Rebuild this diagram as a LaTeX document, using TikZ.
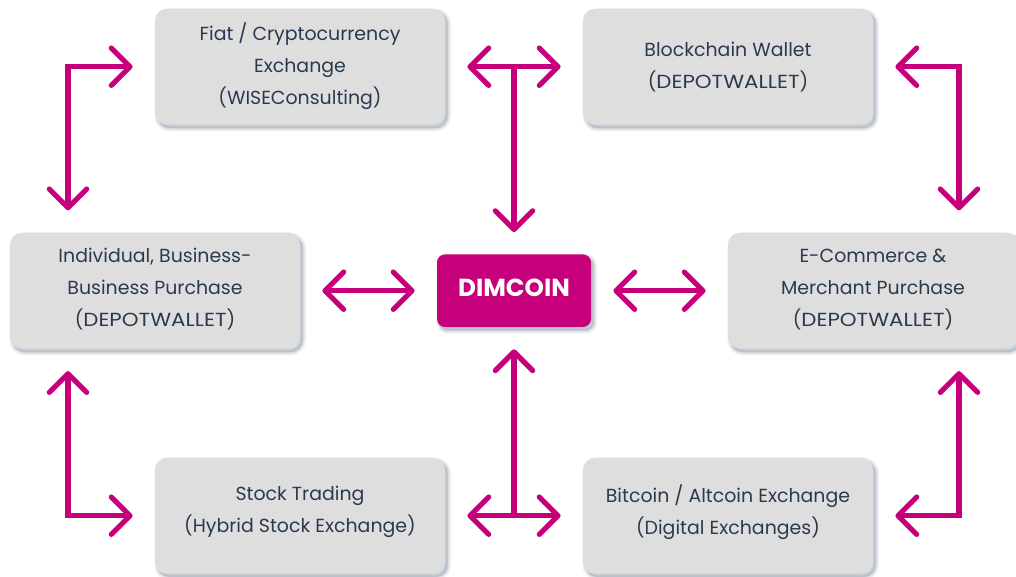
\documentclass[tikz,border=0pt]{standalone}
\usepackage{fontspec}
\setmainfont{Poppins}
\usetikzlibrary{arrows.meta}
\definecolor{mag}{HTML}{C6007A}
\definecolor{boxgray}{HTML}{DEDEDF}
\definecolor{ink}{HTML}{2A3A4E}
\definecolor{shade}{HTML}{8A97A8}
\newcommand{\wcaps}[1]{{\addfontfeature{FakeStretch=1.13}#1}}
\tikzset{
  x=0.75pt,y=-0.75pt,
  layer/.style={preaction={draw=shade,fill=shade,line width=#1,draw opacity=.11,fill opacity=.11,transform canvas={shift={(2pt,-2.5pt)}}}},
  softshadow/.style={layer=5pt,layer=3.5pt,layer=2pt,layer=0.8pt},
  panel/.style={rectangle,rounded corners=9pt,fill=boxgray,minimum width=217.5pt,minimum height=87pt,inner sep=0pt,align=center,text=ink,font=\fontsize{14.2pt}{24pt}\selectfont,softshadow,text depth=5pt},
  lowpanel/.style={panel,text depth=9pt},
  highpanel/.style={panel,text depth=2pt},
  core/.style={rectangle,rounded corners=6pt,fill=mag,minimum width=115.5pt,minimum height=54.5pt,inner sep=0pt,text=white,font=\fontsize{18.5pt}{20pt}\selectfont\bfseries,softshadow,text depth=4.5pt},
  conn/.style={draw=mag,line width=3.9pt,line cap=round,line join=miter},
  tipped/.style={conn,{Straight Barb[length=14pt,width=28pt,line cap=round,round]}-{Straight Barb[length=14pt,width=28pt,line cap=round,round]},shorten <=16.6pt,shorten >=16.6pt},
  halftip/.style={conn,-{Straight Barb[length=14pt,width=28pt,line cap=round,round]},shorten <=0pt,shorten >=0pt}
}
\begin{document}
\begin{tikzpicture}
\useasboundingbox (0,0) rectangle (1016,576);
\fill[white] (0,0) rectangle (1016,576);
\node[panel] (fiat) at (300,66.7) {Fiat / Cryptocurrency\\Exchange\\(WISEConsulting)};
\node[highpanel] (chain) at (728,66.7) {Blockchain Wallet\\(\wcaps{DEPOTWALLET})};
\node[panel] (indiv) at (155,290.7) {Individual, Business-\\Business Purchase\\(\wcaps{DEPOTWALLET})};
\node[panel] (ecom) at (873,290.7) {E-Commerce \&\\Merchant Purchase\\(\wcaps{DEPOTWALLET})};
\node[lowpanel] (stock) at (300,515.7) {Stock Trading\\(Hybrid Stock Exchange)};
\node[lowpanel] (coin) at (728,515.7) {Bitcoin / Altcoin Exchange\\(Digital Exchanges)};
\node[core] (dim) at (514,290.7) {DIMCOIN};
\coordinate (indivT) at ([xshift=-65.25pt]indiv.north);
\coordinate (indivB) at ([xshift=-65.25pt]indiv.south);
\coordinate (ecomT) at ([xshift=64.5pt]ecom.north);
\coordinate (ecomB) at ([xshift=64.5pt]ecom.south);
\draw[tipped] (indiv.east) -- (dim.west);
\draw[tipped] (dim.east) -- (ecom.west);
\draw[tipped] (fiat.east) -- (chain.west);
\draw[tipped] (stock.east) -- (coin.west);
\draw[tipped] (fiat.west) -| (indivT);
\draw[tipped] (indivB) |- (stock.west);
\draw[tipped] (chain.east) -| (ecomT);
\draw[tipped] (ecomB) |- (coin.east);
\draw[halftip,shorten >=16.5pt] (dim.north |- fiat.east) -- (dim.north);
\draw[halftip,shorten >=16.5pt] (dim.south |- stock.east) -- (dim.south);
\end{tikzpicture}
\end{document}
